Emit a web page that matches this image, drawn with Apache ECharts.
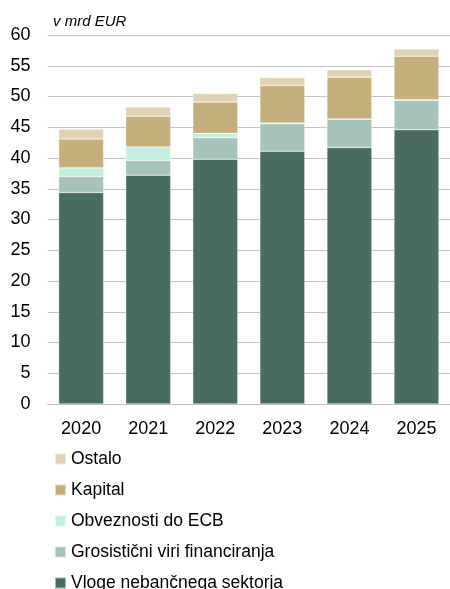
<!DOCTYPE html>
<html>
<head>
<meta charset="utf-8">
<script src="https://cdn.jsdelivr.net/npm/echarts@6/dist/echarts.min.js"></script>
<style>
  html, body { margin: 0; padding: 0; background: #fff; }
  #chart { width: 450px; height: 589px; }
</style>
</head>
<body>
<div id="chart"></div>
<script>
// leta
const years = ['2020', '2021', '2022', '2023', '2024', '2025']
// serije (mrd EUR)
const vloge = [34.4, 37.2, 39.8, 41.1, 41.7, 44.6]
const grosisticni = [2.6, 2.4, 3.5, 4.5, 4.6, 4.8]
const ecb = [1.4, 2.2, 0.7, 0.1, 0.05, 0.05]
const kapital = [4.7, 5.0, 5.1, 6.1, 6.8, 7.1]
const ostalo = [1.6, 1.5, 1.4, 1.3, 1.2, 1.2]

const names = ['Vloge nebančnega sektorja', 'Grosistični viri financiranja', 'Obveznosti do ECB', 'Kapital', 'Ostalo']
const colors = ['#496c60', '#a6c3b9', '#c4eedf', '#c5b07d', '#dfd3b4']
const data = [vloge, grosisticni, ecb, kapital, ostalo]

const font = 'Liberation Sans, Arial, sans-serif'

var myChart = echarts.init(document.getElementById('chart'))

var option = {
  animation: false,
  title: {
    text: 'v mrd EUR',
    left: 48,
    top: 9,
    textStyle: { fontFamily: font, fontStyle: 'italic', fontWeight: 'normal', fontSize: 15, color: '#000' }
  },
  legend: {
    orient: 'vertical',
    left: 49,
    top: 445,
    height: 160,
    itemWidth: 11,
    itemHeight: 11,
    itemGap: 13,
    icon: 'rect',
    data: names.slice().reverse(),
    textStyle: { fontFamily: font, fontSize: 17.5, color: '#000' }
  },
  grid: {
    left: 47.6,
    width: 406.8,
    top: 35,
    height: 369
  },
  xAxis: {
    type: 'category',
    data: years,
    axisTick: { show: false },
    axisLine: { lineStyle: { color: '#bfbfbf', width: 1 } },
    axisLabel: { fontFamily: font, fontSize: 18, color: '#000', margin: 16 }
  },
  yAxis: {
    type: 'value',
    min: 0,
    max: 60,
    interval: 5,
    axisLabel: { fontFamily: font, fontSize: 18, color: '#000', margin: 17 },
    splitLine: { lineStyle: { color: '#c4c4c4', width: 1 } }
  },
  series: names.map((name, i) => ({
    name: name,
    type: 'bar',
    stack: 'total',
    barWidth: 45,
    data: data[i],
    itemStyle: { color: colors[i], borderColor: 'rgba(255,255,255,0.5)', borderWidth: 0.6 }
  }))
}

myChart.setOption(option)
</script>
</body>
</html>
